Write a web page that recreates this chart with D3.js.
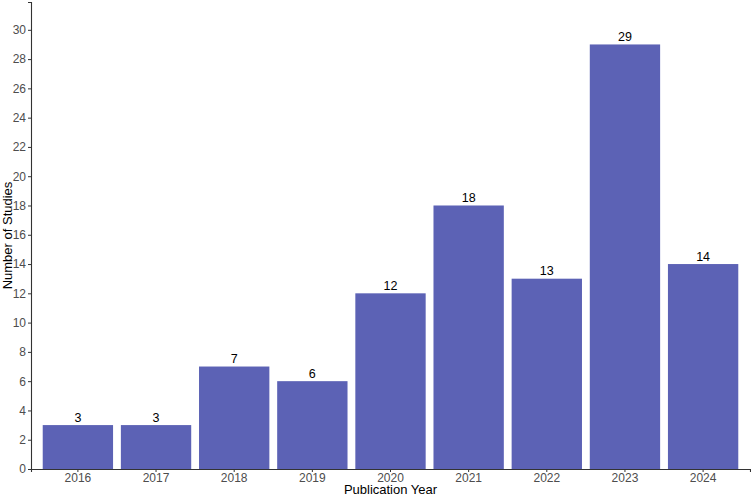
<!DOCTYPE html>
<html>
<head>
<meta charset="utf-8">
<script src="https://cdn.jsdelivr.net/npm/d3@7"></script>
<style>
  body { margin: 0; background: #fff; }
  text { font-family: "Liberation Sans", Arial, sans-serif; }
</style>
</head>
<body>
<div id="chart"></div>
<script>
const years = ['2016', '2017', '2018', '2019', '2020', '2021', '2022', '2023', '2024'];
const studies = [3, 3, 7, 6, 12, 18, 13, 29, 14];
const yTicks = d3.range(0, 31, 2);

const width = 751, height = 496;
const margin = {top: 2, right: 1, bottom: 27, left: 31};
const barColor = '#5c62b5';

const svg = d3.select('#chart').append('svg')
  .attr('width', width)
  .attr('height', height);

const x = d3.scaleBand()
  .domain(years)
  .range([margin.left, width - margin.right])
  .paddingInner(0.1)
  .paddingOuter(0.15);

const y = d3.scaleLinear()
  .domain([0, d3.max(studies) * 1.1])
  .range([height - margin.bottom, margin.top]);

const data = years.map((yr, i) => ({year: yr, n: studies[i]}));

// Bars
svg.append('g')
  .selectAll('rect')
  .data(data)
  .join('rect')
    .attr('x', d => x(d.year))
    .attr('y', d => y(d.n))
    .attr('width', x.bandwidth())
    .attr('height', d => y(0) - y(d.n))
    .attr('fill', barColor);

// Value labels
svg.append('g')
  .selectAll('text')
  .data(data)
  .join('text')
    .attr('x', d => x(d.year) + x.bandwidth() / 2)
    .attr('y', d => y(d.n) - 3.5)
    .attr('text-anchor', 'middle')
    .style('font-size', '12.5px')
    .attr('fill', '#000')
    .text(d => d.n);

// Axes
const yAxis = svg.append('g')
  .attr('transform', `translate(${margin.left},0)`)
  .call(d3.axisLeft(y).tickValues(yTicks).tickSize(3).tickPadding(2));
const xAxis = svg.append('g')
  .attr('transform', `translate(0,${height - margin.bottom})`)
  .call(d3.axisBottom(x).tickSize(3).tickPadding(1.5));

[yAxis, xAxis].forEach(ax => {
  ax.select('.domain').attr('stroke', '#333').attr('stroke-width', 1.1);
  ax.selectAll('.tick line').attr('stroke', '#333');
  ax.selectAll('.tick text')
    .attr('fill', '#4d4d4d')
    .style('font-size', '12px')
    .style('font-family', '"Liberation Sans", Arial, sans-serif');
});

// Axis titles
svg.append('text')
  .attr('x', (margin.left + width - margin.right) / 2)
  .attr('y', height - 2)
  .attr('text-anchor', 'middle')
  .style('font-size', '13px')
  .attr('fill', '#000')
  .text('Publication Year');

svg.append('text')
  .attr('transform', `translate(11.5,${(margin.top + height - margin.bottom) / 2}) rotate(-90)`)
  .attr('text-anchor', 'middle')
  .style('font-size', '13px')
  .attr('fill', '#000')
  .text('Number of Studies');
</script>
</body>
</html>
